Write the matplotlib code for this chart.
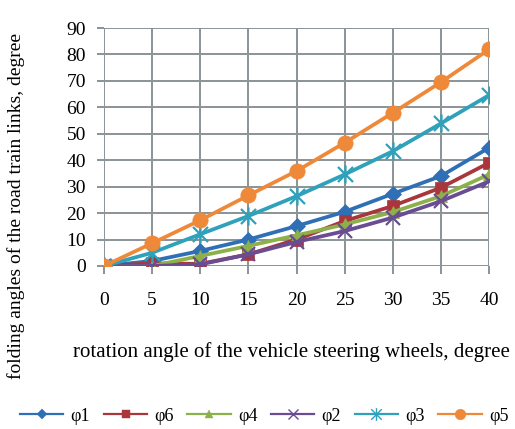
import numpy as np
import matplotlib.pyplot as plt
from matplotlib.path import Path
from matplotlib.lines import Line2D

plt.rcParams['font.family'] = ['Liberation Serif', 'DejaVu Serif']

# steering wheel angle, degree
angle = [0, 5, 10, 15, 20, 25, 30, 35, 40]

# folding angles, degree
phi1 = [0, 1.9, 5.7, 10.0, 15.1, 20.5, 27.3, 34.0, 44.7]
phi6 = [0, 1.0, 0.8, 4.4, 10.0, 17.0, 22.7, 29.6, 39.0]
phi4 = [0, 0.0, 3.8, 7.6, 11.6, 15.7, 20.4, 26.4, 34.6]
phi2 = [0, 0.0, 0.6, 4.4, 9.1, 13.2, 18.3, 24.5, 32.0]
phi3 = [0, 5.0, 12.0, 18.9, 26.4, 34.6, 43.4, 53.9, 64.6]
phi5 = [0, 8.6, 17.3, 26.7, 35.9, 46.6, 57.9, 69.5, 81.9]

# excel style star marker: x plus a vertical stroke
star = Path([(-1, -1), (1, 1), (-1, 1), (1, -1), (0, -1.2), (0, 1.2)],
            [Path.MOVETO, Path.LINETO, Path.MOVETO, Path.LINETO, Path.MOVETO, Path.LINETO])

series = [
    ('φ1', phi1, '#2f6fb5', 'D', 8),
    ('φ6', phi6, '#a8363b', 's', 9),
    ('φ4', phi4, '#8cb04a', '^', 9),
    ('φ2', phi2, '#6a4c93', 'x', 10),
    ('φ3', phi3, '#2fa1ba', star, 13),
    ('φ5', phi5, '#ef893a', 'o', 11),
]

fig = plt.figure(figsize=(5.15, 4.29), dpi=100)
ax = fig.add_axes([0.202, 0.380, 0.7475, 0.5547])

handles = []
for lab, ys, col, mk, ms in series:
    thin = isinstance(mk, Path) or mk == 'x'
    ax.plot(angle, ys, color=col, lw=2.7, marker=mk, markersize=ms,
            markeredgewidth=1.6 if thin else 0.5, markeredgecolor=col,
            zorder=3)
    handles.append(Line2D([], [], color=col, lw=1.6, marker=mk,
                          markersize=ms * 0.7, markeredgewidth=1.0 if thin else 0.3,
                          markeredgecolor=col, label=lab))

ax.set_xlim(0, 40)
ax.set_ylim(0, 90)
ax.set_xticks(angle)
ax.set_yticks(np.arange(0, 91, 10))
ax.grid(True, color='#8a9396', lw=1.4)
for s in ax.spines.values():
    s.set_visible(False)
ax.tick_params(axis='x', length=6, width=1.4, color='#8a9396', pad=13, labelsize=14)
ax.tick_params(axis='y', length=5, width=1.4, color='#8a9396', pad=8, labelsize=14)

fig.text(0.565, 0.18, 'rotation angle of the vehicle steering wheels, degree',
         ha='center', va='center', fontsize=15)
fig.text(0.032, 0.52, 'folding angles of the road train links, degree',
         ha='center', va='center', rotation=90, fontsize=14)

fig.legend(handles=handles, loc='center', bbox_to_anchor=(0.513, 0.03), ncol=6,
           frameon=False, fontsize=13, handlelength=2.4, columnspacing=0.75,
           handletextpad=0.4)

fig.savefig('out.png', dpi=100)
